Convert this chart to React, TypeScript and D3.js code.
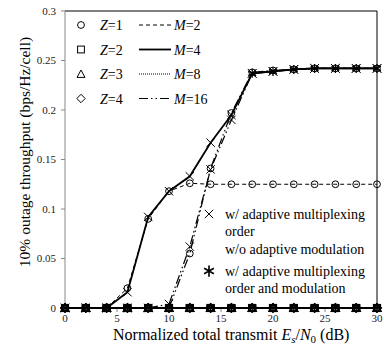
import React from 'react';
import * as d3 from 'd3';

// ---- data ----
const snr = [0, 2, 4, 6, 8, 10, 12, 14, 16, 18, 20, 22, 24, 26, 28, 30];
const yTicks = [0, 0.05, 0.1, 0.15, 0.2, 0.25, 0.3];
const xTicks = [0, 5, 10, 15, 20, 25, 30];

// Z=1 curves
const z1m2 = [0, 0, 0, 0.02, 0.09, 0.118, 0.126, 0.125, 0.125, 0.125, 0.125, 0.125, 0.125, 0.125, 0.125, 0.125];
const z1m16 = [0, 0, 0, 0, 0, 0, 0.055, 0.141, 0.197, 0.238, 0.24, 0.241, 0.242, 0.242, 0.242, 0.242];
const z1m4 = [0, 0, 0, 0, 0, 0, 0, 0, 0, 0, 0, 0, 0, 0, 0, 0];
const z1m8 = [0, 0, 0, 0, 0, 0, 0, 0, 0, 0, 0, 0, 0, 0, 0, 0];
// Z=2..4 curves (all zero)
const z2 = [0, 0, 0, 0, 0, 0, 0, 0, 0, 0, 0, 0, 0, 0, 0, 0];
const z3 = [0, 0, 0, 0, 0, 0, 0, 0, 0, 0, 0, 0, 0, 0, 0, 0];
const z4 = [0, 0, 0, 0, 0, 0, 0, 0, 0, 0, 0, 0, 0, 0, 0, 0];
// adaptive schemes
const adaptMux = [0, 0, 0, 0.016, 0.092, 0.118, 0.133, 0.167, 0.195, 0.237, 0.239, 0.241, 0.242, 0.242, 0.242, 0.242];
const adaptMuxMod = [0, 0, 0, 0, 0, 0.004, 0.062, 0.14, 0.19, 0.237, 0.239, 0.241, 0.242, 0.242, 0.242, 0.242];
const starSnr = [18, 20, 22, 24, 26, 28, 30];
const starVals = [0.237, 0.239, 0.241, 0.242, 0.242, 0.242, 0.242];
const starZero = [0, 0, 0, 0, 0, 0, 0, 0, 0, 0, 0, 0, 0, 0, 0, 0];

const zLabels = ['Z=1', 'Z=2', 'Z=3', 'Z=4'];
const mLabels = ['2', '4', '8', '16'];

type Marker = 'circle' | 'square' | 'triangle' | 'diamond' | 'cross' | 'star';

const dashFor: Record<string, { dash: string; w: number }> = {
  '2': { dash: '4,3', w: 1 },
  '4': { dash: '', w: 1.8 },
  '8': { dash: '1,1', w: 1 },
  '16': { dash: '9,3,1.5,3,1.5,3', w: 1.2 },
};

const series: { values: number[]; marker: Marker; m: string }[] = [
  { values: z2, marker: 'square', m: '4' },
  { values: z3, marker: 'triangle', m: '4' },
  { values: z4, marker: 'diamond', m: '4' },
  { values: z2, marker: 'square', m: '2' },
  { values: z3, marker: 'triangle', m: '8' },
  { values: z4, marker: 'diamond', m: '16' },
  { values: starZero, marker: 'star', m: '4' },
  { values: z1m4, marker: 'circle', m: '4' },
  { values: z1m8, marker: 'circle', m: '8' },
  { values: z1m2, marker: 'circle', m: '2' },
  { values: z1m16, marker: 'circle', m: '16' },
  { values: adaptMuxMod, marker: 'cross', m: '16' },
  { values: adaptMux, marker: 'cross', m: '4' },
];

const FONT = '"Liberation Serif", "Times New Roman", serif';

function MarkerShape({ type, x, y, s = 1, sw = 1 }: { type: Marker; x: number; y: number; s?: number; sw?: number }) {
  const r = 3.4 * s;
  const common = { fill: 'none', stroke: '#000', strokeWidth: sw };
  switch (type) {
    case 'circle':
      return <circle cx={x} cy={y} r={r} {...common} />;
    case 'square':
      return <rect x={x - r} y={y - r} width={2 * r} height={2 * r} {...common} />;
    case 'triangle':
      return <path d={`M${x},${y - r - 0.6}L${x + r + 0.6},${y + r}L${x - r - 0.6},${y + r}Z`} {...common} />;
    case 'diamond':
      return <path d={`M${x},${y - r - 0.8}L${x + r + 0.8},${y}L${x},${y + r + 0.8}L${x - r - 0.8},${y}Z`} {...common} />;
    case 'cross': {
      const c = 4.2 * s;
      return <path d={`M${x - c},${y - c}L${x + c},${y + c}M${x - c},${y + c}L${x + c},${y - c}`} fill="none" stroke="#000" strokeWidth={1} />;
    }
    case 'star': {
      const c = 4.5 * s;
      const d = c * 0.866;
      return (
        <path
          d={`M${x},${y - c}L${x},${y + c}M${x - d},${y - c / 2}L${x + d},${y + c / 2}M${x - d},${y + c / 2}L${x + d},${y - c / 2}`}
          fill="none"
          stroke="#000"
          strokeWidth={1.3 * s}
        />
      );
    }
  }
  return null;
}

export default function App() {
  const W = 384;
  const H = 345;
  const x = d3.scaleLinear().domain([0, 30]).range([65, 377]);
  const y = d3.scaleLinear().domain([0, 0.3]).range([308, 11]);

  const line = d3
    .line<number>()
    .x((_, i) => x(snr[i]))
    .y((d) => y(d));

  const starLine = d3
    .line<number>()
    .x((_, i) => x(starSnr[i]))
    .y((d) => y(d));

  return (
    <svg
      width={W}
      height={H}
      style={{ position: 'absolute', left: 0, top: 0, background: '#fff' }}
      fontFamily={FONT}
    >
      <rect x={0} y={0} width={W} height={H} fill="#fff" />
      {/* frame */}
      <line x1={65} y1={y(0.3)} x2={x(30)} y2={y(0.3)} stroke="#000" strokeWidth={1} />
      <line x1={x(30)} y1={y(0.3)} x2={x(30)} y2={y(0)} stroke="#000" strokeWidth={1} />
      {/* y axis */}
      <line x1={65} y1={y(0.3)} x2={65} y2={y(0)} stroke="#888" strokeWidth={1} />
      {yTicks.map((t) => (
        <g key={'yt' + t}>
          <line x1={61} x2={65} y1={y(t)} y2={y(t)} stroke="#888" />
          <text x={56} y={y(t) + 3.5} fontSize={11} textAnchor="end" fill="#222">
            {t === 0 ? '0' : String(t)}
          </text>
        </g>
      ))}
      {/* x axis */}
      <line x1={65} y1={y(0)} x2={x(30)} y2={y(0)} stroke="#888" strokeWidth={1} />
      {xTicks.map((t) => (
        <g key={'xt' + t}>
          <line x1={x(t)} x2={x(t)} y1={y(0)} y2={y(0) + 4} stroke="#888" />
          <text x={x(t)} y={321.5} fontSize={11} textAnchor="middle" fill="#222">
            {t}
          </text>
        </g>
      ))}

      {/* series lines */}
      {series.map((s, k) => (
        <path
          key={'l' + k}
          d={line(s.values) || ''}
          fill="none"
          stroke="#000"
          strokeWidth={s.values.every((v) => v === 0) ? 2.2 : dashFor[s.m].w}
          strokeDasharray={dashFor[s.m].dash || undefined}
        />
      ))}
      <path d={starLine(starVals) || ''} fill="none" stroke="#000" strokeWidth={1.8} />
      {/* markers */}
      {series.map((s, k) =>
        s.values.map((v, i) => (
          <MarkerShape key={`m${k}-${i}`} type={s.marker} x={x(snr[i])} y={y(v)} sw={v === 0 ? 1.3 : 1} />
        ))
      )}
      {starVals.map((v, i) => (
        <MarkerShape key={`st-${i}`} type="star" x={x(starSnr[i])} y={y(v)} />
      ))}

      {/* left legend */}
      {zLabels.map((lab, i) => {
        const yy = 25 + i * 24.5;
        const mk: Marker[] = ['circle', 'square', 'triangle', 'diamond'];
        return (
          <g key={'zl' + i}>
            <MarkerShape type={mk[i]} x={81} y={yy} />
            <text x={100} y={yy + 5} fontSize={14}>
              <tspan fontStyle="italic">Z</tspan>
              {lab.slice(1)}
            </text>
            <line
              x1={139}
              x2={171}
              y1={yy}
              y2={yy}
              stroke="#000"
              strokeWidth={dashFor[mLabels[i]].w}
              strokeDasharray={dashFor[mLabels[i]].dash || undefined}
            />
            <text x={174} y={yy + 5} fontSize={14}>
              <tspan fontStyle="italic">M</tspan>={mLabels[i]}
            </text>
          </g>
        );
      })}

      {/* right legend */}
      <MarkerShape type="cross" x={209} y={214} />
      <text fontSize={14} x={225} y={219}>w/ adaptive multiplexing</text>
      <text fontSize={14} x={225} y={236}>order</text>
      <text fontSize={14} x={225} y={254}>w/o adaptive modulation</text>
      <MarkerShape type="star" x={209} y={271} s={1.25} />
      <text fontSize={14} x={225} y={276}>w/ adaptive multiplexing</text>
      <text fontSize={14} x={225} y={293}>order and modulation</text>

      {/* axis titles */}
      <text x={113} y={340} fontSize={16}>
        Normalized total transmit <tspan fontStyle="italic">E</tspan>
        <tspan fontStyle="italic" fontSize={11} dy={3}>s</tspan>
        <tspan dy={-3}>/</tspan>
        <tspan fontStyle="italic">N</tspan>
        <tspan fontSize={11} dy={3}>0</tspan>
        <tspan dy={-3}> (dB)</tspan>
      </text>
      <text transform="translate(30,152) rotate(-90)" fontSize={15.5} textAnchor="middle">
        10% outage throughput (bps/Hz/cell)
      </text>
    </svg>
  );
}
